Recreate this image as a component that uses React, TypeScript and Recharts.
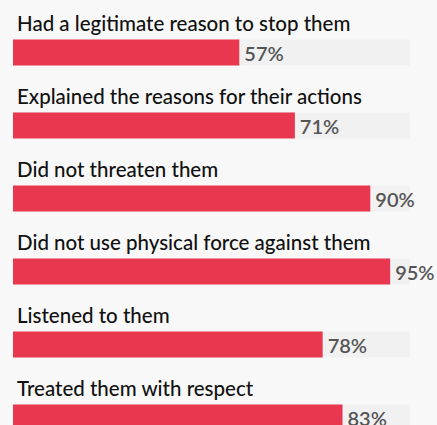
import { Bar, BarChart, LabelList, XAxis, YAxis } from "recharts";

const categories = [
  "Had a legitimate reason to stop them",
  "Explained the reasons for their actions",
  "Did not threaten them",
  "Did not use physical force against them",
  "Listened to them",
  "Treated them with respect",
];
const shares = [57, 71, 90, 95, 78, 83];

const data = categories.map((name, i) => ({ name, value: shares[i] }));

const NameLabel = (props: any) => {
  const { x, y, value } = props;
  return (
    <text x={x + 4} y={y - 9} fill="#111" fontSize={20.5} fontWeight={500} fontFamily="Lato, sans-serif">
      {value}
    </text>
  );
};

const ValueLabel = (props: any) => {
  const { x, y, width, value } = props;
  return (
    <text x={x + width + 5} y={y + 21} fill="#555" fontSize={20} fontWeight={600} fontFamily="Lato, sans-serif">
      {value}%
    </text>
  );
};

export default function App() {
  return (
    <div style={{ position: "fixed", top: 0, left: 0, width: 437, height: 425, background: "#f8f8f8", overflow: "hidden" }}>
      <BarChart
        width={437}
        height={470}
        data={data}
        layout="vertical"
        margin={{ top: 15.5, right: 27, bottom: 16.5, left: 13 }}
      >
        <XAxis type="number" domain={[0, 100]} hide />
        <YAxis type="category" dataKey="name" hide />
        <Bar dataKey="value" fill="#e9374f" barSize={26} background={{ fill: "#f1f1f1" }} isAnimationActive={false}>
          <LabelList dataKey="name" content={NameLabel} />
          <LabelList dataKey="value" content={ValueLabel} />
        </Bar>
      </BarChart>
    </div>
  );
}
